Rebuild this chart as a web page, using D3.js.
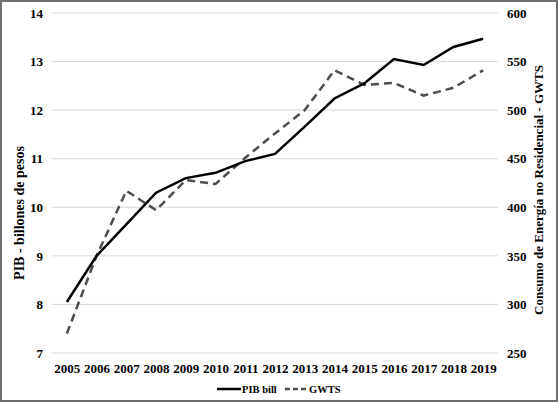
<!DOCTYPE html>
<html>
<head>
  <meta charset="UTF-8">
  <script src="https://d3js.org/d3.v7.js"></script>
  <style>
    body { margin: 0; background: #fff; }
    text { font-family: "Liberation Serif", "Times New Roman", serif; font-weight: bold; }
  </style>
</head>
<body>
  <div id="chart"></div>
  <script>
    // data
    const years = ['2005', '2006', '2007', '2008', '2009', '2010', '2011', '2012',
                   '2013', '2014', '2015', '2016', '2017', '2018', '2019'];
    const pib = [8.05, 9.0, 9.65, 10.3, 10.6, 10.71, 10.95, 11.1,
                 11.66, 12.24, 12.55, 13.05, 12.93, 13.3, 13.47];
    const gwts = [270, 350, 417, 397, 428, 424, 451, 476,
                  500, 541, 526, 528, 515, 523, 541];
    const leftTicks = [7, 8, 9, 10, 11, 12, 13, 14];
    const rightTicks = [250, 300, 350, 400, 450, 500, 550, 600];

    // set up
    const W = 558, H = 402;
    const plot = { left: 52, right: 498, top: 13, bottom: 353 };

    const svg = d3.select('#chart')
      .append('svg')
        .attr('width', W)
        .attr('height', H);

    // frame
    svg.append('rect')
        .attr('x', 1).attr('y', 1)
        .attr('width', W - 2).attr('height', H - 2)
        .attr('fill', 'none')
        .attr('stroke', '#6f6f6f')
        .attr('stroke-width', 2);

    // scales
    const x = d3.scalePoint()
        .domain(years)
        .range([plot.left, plot.right])
        .padding(0.5);

    const yL = d3.scaleLinear()
        .domain([7, 14])
        .range([plot.bottom, plot.top]);

    const yR = d3.scaleLinear()
        .domain([250, 600])
        .range([plot.bottom, plot.top]);

    // gridlines
    svg.append('g')
      .selectAll('line')
      .data(leftTicks)
      .join('line')
        .attr('x1', plot.left).attr('x2', plot.right)
        .attr('y1', d => yL(d)).attr('y2', d => yL(d))
        .attr('stroke', '#d9d9d9')
        .attr('stroke-width', 1);

    // axes
    const axisL = svg.append('g')
        .attr('transform', `translate(${plot.left},0)`)
        .call(d3.axisLeft(yL).tickValues(leftTicks).tickFormat(d3.format('d'))
          .tickSize(0).tickPadding(9));
    const axisR = svg.append('g')
        .attr('transform', `translate(${plot.right},0)`)
        .call(d3.axisRight(yR).tickValues(rightTicks).tickFormat(d3.format('d'))
          .tickSize(0).tickPadding(9));
    const axisB = svg.append('g')
        .attr('transform', `translate(0,${plot.bottom})`)
        .call(d3.axisBottom(x).tickSize(0).tickPadding(11));

    [axisL, axisR, axisB].forEach(g => {
      g.select('.domain').remove();
      g.selectAll('text')
          .attr('font-size', 13)
          .attr('font-family', '"Liberation Serif", serif')
          .attr('font-weight', 'bold')
          .attr('fill', '#000');
    });

    // axis titles
    svg.append('text')
        .attr('transform', 'translate(24,213) rotate(-90)')
        .attr('text-anchor', 'middle')
        .attr('font-size', 14)
        .text('PIB - billones de pesos');

    svg.append('text')
        .attr('transform', 'translate(543,190) rotate(-90)')
        .attr('text-anchor', 'middle')
        .attr('font-size', 13)
        .text('Consumo de Energía no Residencial - GWTS');

    // lines
    const linePib = d3.line()
        .x((d, i) => x(years[i]))
        .y(d => yL(d));
    const lineGwts = d3.line()
        .x((d, i) => x(years[i]))
        .y(d => yR(d));

    svg.append('path')
        .datum(gwts)
        .attr('d', lineGwts)
        .attr('fill', 'none')
        .attr('stroke', '#4d4d4d')
        .attr('stroke-width', 2.5)
        .attr('stroke-dasharray', '8,5');

    svg.append('path')
        .datum(pib)
        .attr('d', linePib)
        .attr('fill', 'none')
        .attr('stroke', '#000')
        .attr('stroke-width', 2.5);

    // legend
    const legend = svg.append('g')
        .attr('transform', 'translate(217,389)');

    legend.append('line')
        .attr('x1', 0).attr('x2', 24)
        .attr('stroke', '#000')
        .attr('stroke-width', 2.5);
    legend.append('text')
        .attr('x', 25).attr('y', 3.5)
        .attr('font-size', 10.5)
        .text('PIB bill');

    legend.append('line')
        .attr('x1', 68).attr('x2', 91)
        .attr('stroke', '#4d4d4d')
        .attr('stroke-width', 2.5)
        .attr('stroke-dasharray', '5,3');
    legend.append('text')
        .attr('x', 92).attr('y', 3.5)
        .attr('font-size', 10.5)
        .text('GWTS');
  </script>
</body>
</html>
